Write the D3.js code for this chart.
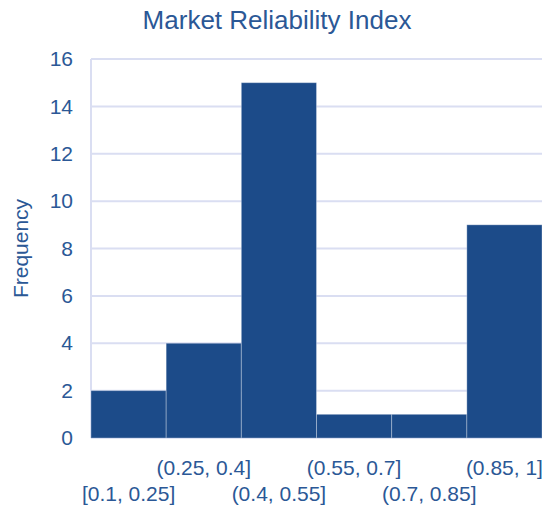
<!DOCTYPE html>
<html>
<head>
<meta charset="utf-8">
<script src="https://cdn.jsdelivr.net/npm/d3@7"></script>
<style>
  body { margin: 0; background: #fff; }
  text { font-family: "Liberation Sans", Arial, sans-serif; }
</style>
</head>
<body>
<div id="chart"></div>
<script>
const bins = ['[0.1, 0.25]', '(0.25, 0.4]', '(0.4, 0.55]', '(0.55, 0.7]', '(0.7, 0.85]', '(0.85, 1]'];
const counts = [2, 4, 15, 1, 1, 9];
const yTicks = [0, 2, 4, 6, 8, 10, 12, 14, 16];

const width = 551, height = 511;
const margin = { top: 59, right: 9, bottom: 73, left: 91 };
const innerW = width - margin.left - margin.right;
const innerH = height - margin.top - margin.bottom;

const barColor = '#1c4b89';
const textColor = '#2b5896';
const gridColor = '#dadef2';

const svg = d3.select('#chart')
  .append('svg')
  .attr('width', width)
  .attr('height', height);

const g = svg.append('g')
  .attr('transform', `translate(${margin.left},${margin.top})`);

const x = d3.scaleBand()
  .domain(bins)
  .range([0, innerW])
  .padding(0);

const y = d3.scaleLinear()
  .domain([0, 16])
  .range([innerH, 0]);

// gridlines
g.selectAll('line.grid')
  .data(yTicks)
  .enter()
  .append('line')
  .attr('class', 'grid')
  .attr('x1', 0)
  .attr('x2', innerW)
  .attr('y1', d => y(d))
  .attr('y2', d => y(d))
  .attr('stroke', gridColor)
  .attr('stroke-width', 2);

// left axis line
g.append('line')
  .attr('x1', 0).attr('x2', 0)
  .attr('y1', y(16)).attr('y2', y(0))
  .attr('stroke', gridColor)
  .attr('stroke-width', 2);

// y tick labels
const yAxis = g.append('g')
  .call(d3.axisLeft(y).tickValues(yTicks).tickSize(0).tickPadding(18));
yAxis.select('.domain').remove();
yAxis.selectAll('text')
  .attr('fill', textColor)
  .style('font-size', '21px');

// bars
g.selectAll('rect.bar')
  .data(counts)
  .enter()
  .append('rect')
  .attr('class', 'bar')
  .attr('x', (d, i) => x(bins[i]))
  .attr('y', d => y(d))
  .attr('width', x.bandwidth())
  .attr('height', d => y(0) - y(d))
  .attr('fill', barColor)
  .attr('stroke', 'rgba(255,255,255,0.3)')
  .attr('stroke-width', 1);

// x labels, staggered
g.selectAll('text.xlab')
  .data(bins)
  .enter()
  .append('text')
  .attr('class', 'xlab')
  .attr('x', d => x(d) + x.bandwidth() / 2)
  .attr('y', (d, i) => i % 2 === 0 ? innerH + 63 : innerH + 37)
  .attr('text-anchor', 'middle')
  .attr('fill', textColor)
  .style('font-size', '21px')
  .text(d => d);

// title
svg.append('text')
  .attr('x', 277)
  .attr('y', 29)
  .attr('text-anchor', 'middle')
  .attr('fill', textColor)
  .style('font-size', '26px')
  .text('Market Reliability Index');

// y label
svg.append('text')
  .attr('transform', `translate(28,${margin.top + innerH / 2}) rotate(-90)`)
  .attr('text-anchor', 'middle')
  .attr('fill', textColor)
  .style('font-size', '21px')
  .text('Frequency');
</script>
</body>
</html>
